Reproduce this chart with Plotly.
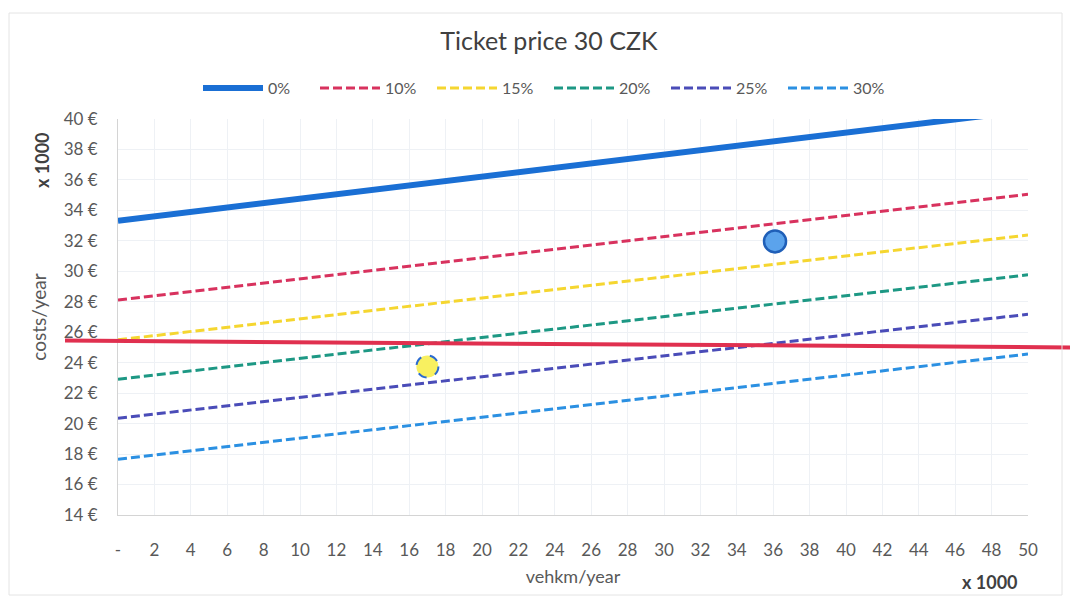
import plotly.graph_objects as go

# ---- data ----
x_ends = [0, 50]
series_names = ["0%", "10%", "15%", "20%", "25%", "30%"]
y_0 = [33.32, 40.55]
y_10 = [28.12, 35.06]
y_15 = [25.50, 32.38]
y_20 = [22.91, 29.77]
y_25 = [20.35, 27.18]
y_30 = [17.66, 24.57]
series_values = [y_0, y_10, y_15, y_20, y_25, y_30]

point_blue = (36.1, 31.96)
point_yellow = (17.0, 23.75)

red_line_y = [25.45, 25.0]

x_tick_vals = list(range(0, 52, 2))
x_tick_text = ["-"] + [str(v) for v in range(2, 52, 2)]
y_tick_vals = list(range(14, 42, 2))
y_tick_text = [f"{v} €" for v in y_tick_vals]

# ---- styles ----
colors = ["#1a6fd4", "#d8325e", "#f5d630", "#1d9884", "#4a4cb8", "#2b90e2"]
widths = [6, 3, 3, 3, 3, 3]
dashes = ["solid", "9px,4px", "9px,4px", "9px,4px", "9px,4px", "9px,4px"]
FONT = "Lato"
GREY = "#595959"

fig = go.Figure()
for name, vals, c, w, d in zip(series_names, series_values, colors, widths, dashes):
    fig.add_trace(go.Scatter(x=x_ends, y=vals, mode="lines", name=name,
                             line=dict(color=c, width=w, dash=d)))

fig.add_trace(go.Scatter(x=[point_blue[0]], y=[point_blue[1]], mode="markers",
                         showlegend=False,
                         marker=dict(size=22, color="#5ba3ec",
                                     line=dict(color="#1f5fb8", width=2.5))))
fig.add_trace(go.Scatter(x=[point_yellow[0]], y=[point_yellow[1]], mode="markers",
                         showlegend=False,
                         marker=dict(size=22, color="#f8f060", line=dict(width=0))))

L, R, T, B = 118, 42, 119, 84
W, H = 1070, 599
pw = W - L - R
ph = H - T - B

# dashed border for yellow point
fig.add_shape(type="circle", xref="x", yref="y", xsizemode="pixel", ysizemode="pixel",
              xanchor=point_yellow[0], yanchor=point_yellow[1],
              x0=-11, x1=11, y0=-11, y1=11,
              line=dict(color="#2a6ad0", width=2, dash="dash"))

# red horizontal line spanning beyond plot
fig.add_shape(type="line", xref="paper", yref="y",
              x0=(65 - L) / pw, x1=(W - L) / pw,
              y0=red_line_y[0], y1=red_line_y[1],
              line=dict(color="#e0304f", width=4))

# outer chart border
fig.add_shape(type="rect", xref="paper", yref="paper",
              x0=(9 - L) / pw, x1=(1062 - L) / pw,
              y0=-(595 - (H - B)) / ph, y1=1 + (T - 13) / ph,
              line=dict(color="#e4e4e4", width=1))

fig.add_annotation(text="<b>x 1000</b>", xref="paper", yref="paper",
                   x=(42 - L) / pw, y=1 - (160 - T) / ph,
                   xanchor="center", yanchor="middle",
                   textangle=-90, showarrow=False,
                   font=dict(family=FONT, size=18, color="#404040"))
fig.add_annotation(text="<b>x 1000</b>", xref="paper", yref="paper",
                   x=(990 - L) / pw, y=-(582 - (H - B)) / ph,
                   xanchor="center", yanchor="middle",
                   showarrow=False,
                   font=dict(family=FONT, size=18, color="#404040"))

fig.update_layout(
    width=W, height=H,
    margin=dict(l=L, r=R, t=T, b=B),
    paper_bgcolor="white", plot_bgcolor="white",
    font=dict(family=FONT, color=GREY),
    title=dict(text="Ticket price 30 CZK", x=0.513, xanchor="center",
               y=1 - 41 / H, yanchor="middle",
               font=dict(family=FONT, size=25, color="#404040")),
    legend=dict(orientation="h", x=(549 - L) / pw, xanchor="center",
                y=1 + (T - 88) / ph, yanchor="middle",
                font=dict(family=FONT, size=16, color=GREY),
                itemwidth=60, entrywidth=42, bgcolor="rgba(0,0,0,0)"),
    xaxis=dict(range=[0, 50], tickvals=x_tick_vals, ticktext=x_tick_text,
               showgrid=True, gridcolor="#eef1f5", gridwidth=1,
               showline=True, linecolor="#d4d4d4", linewidth=1,
               zeroline=False, ticks="", ticklabelstandoff=20,
               tickfont=dict(family=FONT, size=17, color=GREY),
               title=dict(text="vehkm/year", standoff=10,
                          font=dict(family=FONT, size=18, color=GREY))),
    yaxis=dict(range=[14, 40], tickvals=y_tick_vals, ticktext=y_tick_text,
               showgrid=True, gridcolor="#eef1f5", gridwidth=1,
               showline=True, linecolor="#d4d4d4", linewidth=1,
               zeroline=False, ticks="", ticklabelstandoff=16,
               tickfont=dict(family=FONT, size=17, color=GREY),
               title=dict(text="costs/year", standoff=12,
                          font=dict(family=FONT, size=19, color=GREY))),
)

fig.write_html("out.html")
